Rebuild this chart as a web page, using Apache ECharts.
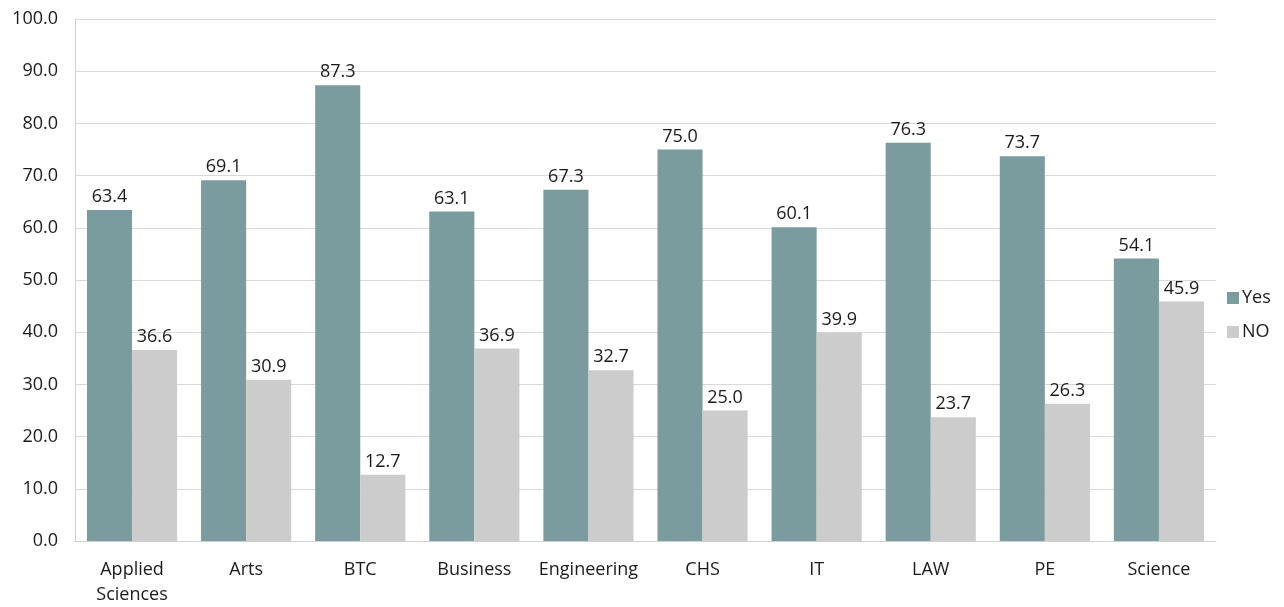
<!DOCTYPE html>
<html>
<head>
<meta charset="utf-8">
<script src="https://cdn.jsdelivr.net/npm/echarts@6/dist/echarts.min.js"></script>
<style>
  html, body { margin: 0; padding: 0; background: #ffffff; }
  #chart { width: 1284px; height: 607px; }
</style>
</head>
<body>
<div id="chart"></div>
<script>
// Share of responses per faculty (percent)
const categories = ['Applied\nSciences', 'Arts', 'BTC', 'Business', 'Engineering', 'CHS', 'IT', 'LAW', 'PE', 'Science'];
const yesValues = [63.4, 69.1, 87.3, 63.1, 67.3, 75.0, 60.1, 76.3, 73.7, 54.1];
const noValues = [36.6, 30.9, 12.7, 36.9, 32.7, 25.0, 39.9, 23.7, 26.3, 45.9];
const seriesNames = ['Yes', 'NO'];

const FONT = '"Open Sans", "Noto Sans", sans-serif';
const chart = echarts.init(document.getElementById('chart'));

const labelStyle = {
  show: true,
  position: 'top',
  distance: 4,
  color: '#1a1a1a',
  fontSize: 18,
  fontFamily: FONT,
  formatter: p => p.value.toFixed(1)
};

chart.setOption({
  animation: false,
  textStyle: { fontFamily: FONT },
  grid: { left: 75, right: 68, top: 19, bottom: 65, containLabel: false },
  legend: {
    orient: 'vertical',
    left: 1222,
    top: 284,
    itemWidth: 12,
    itemHeight: 12,
    itemGap: 16,
    icon: 'rect',
    textStyle: { fontSize: 18, color: '#1a1a1a', fontFamily: FONT, padding: [0, 0, 0, -2] },
    data: seriesNames
  },
  xAxis: {
    type: 'category',
    data: categories,
    axisLine: { show: true, lineStyle: { color: '#d0d0d0', width: 1 } },
    axisTick: { show: false },
    axisLabel: { color: '#1a1a1a', fontSize: 18, fontFamily: FONT, margin: 16, lineHeight: 25, interval: 0 }
  },
  yAxis: {
    type: 'value',
    min: 0,
    max: 100,
    interval: 10,
    axisLine: { show: true, lineStyle: { color: '#d0d0d0', width: 1 } },
    axisTick: { show: false },
    splitLine: { lineStyle: { color: '#d9d9d9', width: 1 } },
    axisLabel: { color: '#1a1a1a', fontSize: 18, fontFamily: FONT, margin: 17, formatter: v => v.toFixed(1) }
  },
  series: [
    {
      name: seriesNames[0],
      type: 'bar',
      data: yesValues,
      barGap: '0%',
      barCategoryGap: '21%',
      itemStyle: { color: '#7a9c9f' },
      label: labelStyle
    },
    {
      name: seriesNames[1],
      type: 'bar',
      data: noValues,
      itemStyle: { color: '#cccccc' },
      label: labelStyle
    }
  ]
});
</script>
</body>
</html>
